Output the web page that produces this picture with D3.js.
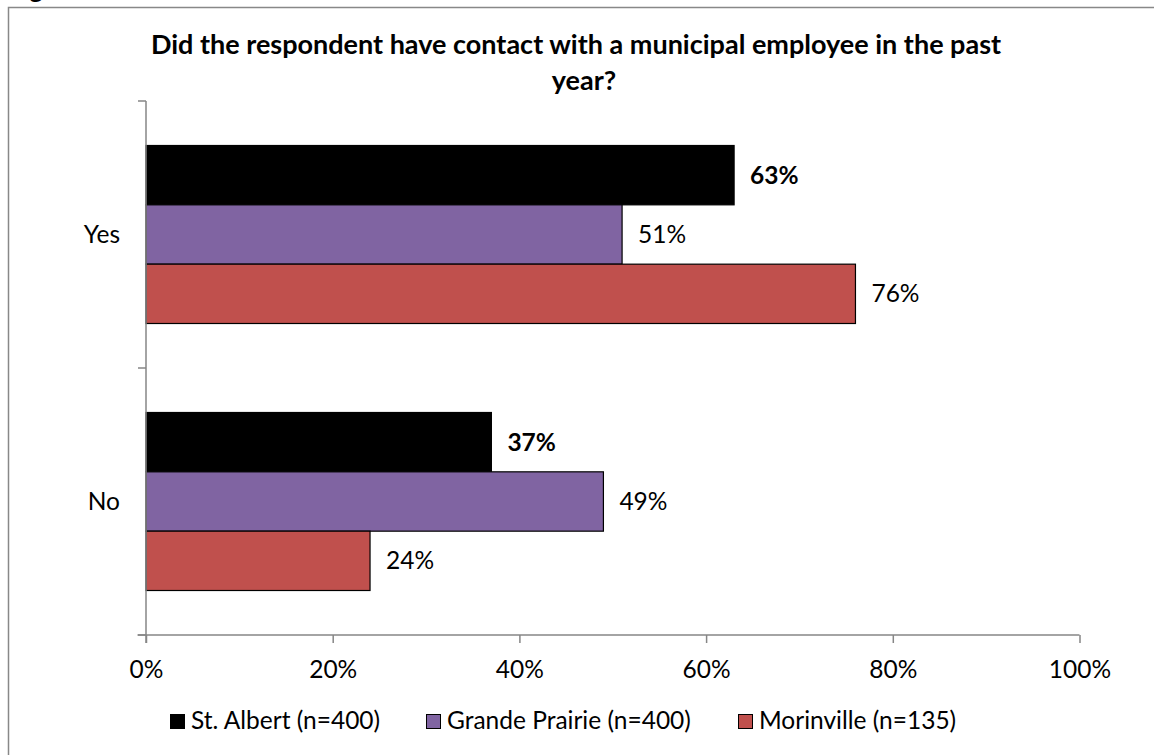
<!DOCTYPE html>
<html><head><meta charset="utf-8">
<script src="https://cdn.jsdelivr.net/npm/d3@7"></script>
<style>
html,body{margin:0;padding:0;background:#fff;}
svg text{font-family:Lato,"Open Sans",sans-serif;}
</style></head>
<body>
<svg id="chart" width="1154" height="755"></svg>
<script>
const categories = ["Yes", "No"];
const seriesNames = ["St. Albert (n=400)", "Grande Prairie (n=400)", "Morinville (n=135)"];
const seriesColors = ["#000000", "#8064A2", "#C0504D"];
const stAlbert = [0.63, 0.37];
const grandePrairie = [0.51, 0.49];
const morinville = [0.76, 0.24];
const xTicks = [0, 0.2, 0.4, 0.6, 0.8, 1.0];
const titleLines = ["Did the respondent have contact with a municipal employee in the past", "year?"];

const seriesValues = [stAlbert, grandePrairie, morinville];
const boldLabels = [true, false, false];

const svg = d3.select("#chart");
const FS = 24.5;

// figure caption fragment cut off at top
svg.append("text").attr("x", 8).attr("y", -2).attr("font-size", 26).attr("font-weight", "bold").text("Figure");

// outer border
svg.append("rect").attr("x", 8.5).attr("y", 7.5).attr("width", 1160).attr("height", 760)
  .attr("fill", "none").attr("stroke", "#888").attr("stroke-width", 1.5);

// title
const titleX = [576, 584];
svg.append("g").selectAll("text").data(titleLines).join("text")
  .attr("x", (d, i) => titleX[i]).attr("y", (d, i) => 54 + i * 36)
  .attr("text-anchor", "middle").attr("font-size", 27).attr("font-weight", "bold")
  .text(d => d);

const x = d3.scaleLinear().domain([0, 1]).range([146, 1079.5]);
const y0 = d3.scaleBand().domain(categories).range([101, 635]).padding(0);
const y1 = d3.scaleBand().domain(d3.range(seriesNames.length)).range([0, y0.bandwidth()]).paddingInner(0).paddingOuter(0.75);

// bars
const groups = svg.append("g").selectAll("g").data(categories).join("g")
  .attr("transform", d => `translate(0,${y0(d)})`);
groups.each(function(cat, ci) {
  const g = d3.select(this);
  seriesValues.forEach((vals, si) => {
    const v = vals[ci];
    g.append("rect")
      .attr("x", x(0)).attr("y", y1(si))
      .attr("width", x(v) - x(0)).attr("height", y1.bandwidth())
      .attr("fill", seriesColors[si]).attr("stroke", "#000").attr("stroke-width", 1.2);
    g.append("text")
      .attr("x", x(v) + 16).attr("y", y1(si) + y1.bandwidth() / 2 + 8.5)
      .attr("font-size", FS).attr("font-weight", boldLabels[si] ? "bold" : "normal")
      .attr("fill", "#000")
      .text(d3.format(".0%")(v));
  });
});

// x axis
const xAxis = d3.axisBottom(x).tickValues(xTicks).tickFormat(d3.format(".0%")).tickSize(8).tickSizeOuter(0);
const gx = svg.append("g").attr("transform", "translate(0,635)").call(xAxis);
gx.select(".domain").attr("stroke", "#868686").attr("stroke-width", 1.5).attr("d", "M137.5,0H1079.5");
gx.selectAll(".tick line").attr("stroke", "#868686").attr("stroke-width", 1.5);
gx.selectAll(".tick text").attr("font-size", FS).attr("fill", "#000").attr("dy", 0).attr("y", 43)
  .style("font-family", "Lato");

// y axis
const yAxis = d3.axisLeft(y0).tickSize(0);
const gy = svg.append("g").attr("transform", "translate(146,0)").call(yAxis);
gy.select(".domain").attr("stroke", "#868686").attr("stroke-width", 1.5).attr("d", "M0,101V643");
gy.selectAll(".tick text").attr("font-size", FS).attr("fill", "#000").attr("x", -26).attr("dy", "0.35em")
  .style("font-family", "Lato");
// category boundary ticks
const boundaries = [y0.range()[0], ...categories.map(c => y0(c) + y0.bandwidth())];
gy.append("g").selectAll("line").data(boundaries).join("line")
  .attr("x1", -8).attr("x2", 0).attr("y1", d => d).attr("y2", d => d)
  .attr("stroke", "#868686").attr("stroke-width", 1.5);

// legend
const legendX = [170, 426, 738];
const legend = svg.append("g").selectAll("g").data(seriesNames).join("g")
  .attr("transform", (d, i) => `translate(${legendX[i]},714)`);
legend.append("rect").attr("x", 0.5).attr("y", 0.5).attr("width", 14).attr("height", 14)
  .attr("fill", (d, i) => seriesColors[i]).attr("stroke", "#000").attr("stroke-width", 1);
legend.append("text").attr("x", 21).attr("y", 15).attr("font-size", FS).attr("fill", "#000").text(d => d);
</script>
</body></html>
